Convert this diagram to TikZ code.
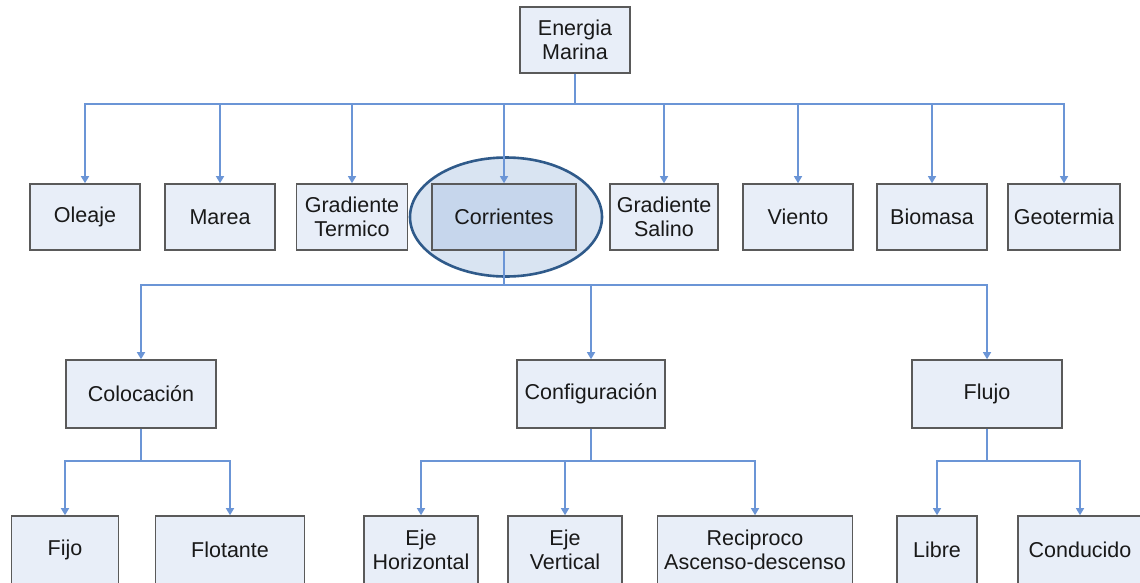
\documentclass[tikz,border=0pt]{standalone}
\usepackage{fontspec}
\setmainfont{Liberation Sans}
\usetikzlibrary{arrows.meta,shapes.geometric}
\definecolor{boxfill}{HTML}{E8EEF8}
\definecolor{boxdark}{HTML}{C6D6EC}
\definecolor{boxline}{HTML}{5A5A5A}
\definecolor{connc}{HTML}{6B95D6}
\definecolor{ellline}{HTML}{2F5A8A}
\definecolor{ellfill}{HTML}{D9E4F2}
\tikzset{
  box/.style={draw=boxline, line width=1.6pt, fill=boxfill, align=center,
    inner sep=0pt, minimum height=66pt, font=\fontsize{21.5}{24}\selectfont, text=black!90},
  conn/.style={draw=connc, line width=1.3pt, -{Triangle[width=8pt,length=7pt]}}
}
\begin{document}
\begin{tikzpicture}[x=1pt,y=-1pt]
\useasboundingbox (0,0) rectangle (1140,582);
\clip (0,0) rectangle (1140,582);
\fill[white] (0,0) rectangle (1140,582);
% ellipse highlight
\node[ellipse, draw=ellline, line width=2.6pt, fill=ellfill, minimum width=192pt, minimum height=119pt, inner sep=0pt] (hl) at (506,217) {};
% bus coordinates
\coordinate (b1) at (0,104);
\coordinate (b2) at (0,285);
\coordinate (b3) at (0,461);
% level 1
\node[box, minimum width=110pt] (root) at (575,40) {Energia\\Marina};
% level 2
\node[box, minimum width=110pt] (ole) at (85,217) {Oleaje};
\node[box, minimum width=110pt] (mar) at (220,217) {Marea};
\node[box, minimum width=111pt] (gt) at (352,217) {Gradiente\\Termico};
\node[box, minimum width=144pt, fill=boxdark] (cor) at (504,217) {Corrientes};
\node[box, minimum width=108pt] (gs) at (664,217) {Gradiente\\Salino};
\node[box, minimum width=110pt] (vie) at (798,217) {Viento};
\node[box, minimum width=110pt] (bio) at (932,217) {Biomasa};
\node[box, minimum width=112pt] (geo) at (1064,217) {Geotermia};
% level 3
\node[box, minimum width=150pt, minimum height=68pt] (col) at (141,394) {Colocación};
\node[box, minimum width=148pt, minimum height=68pt] (conf) at (591,394) {Configuración};
\node[box, minimum width=150pt, minimum height=68pt] (flu) at (987,394) {Flujo};
% level 4
\node[box, minimum width=107pt, minimum height=68pt] (fij) at (65,550) {Fijo};
\node[box, minimum width=149pt, minimum height=68pt] (flo) at (230,550) {Flotante};
\node[box, minimum width=114pt, minimum height=68pt] (ejh) at (421,550) {Eje\\Horizontal};
\node[box, minimum width=114pt, minimum height=68pt] (ejv) at (565,550) {Eje\\Vertical};
\node[box, minimum width=195pt, minimum height=68pt] (rec) at (755,550) {Reciproco\\Ascenso-descenso};
\node[box, minimum width=80pt, minimum height=68pt] (lib) at (937,550) {Libre};
\node[box, minimum width=124pt, minimum height=68pt] (cond) at (1080,550) {Conducido};
% connectors
\foreach \c in {ole,mar,gt,cor,gs,vie,bio,geo}
  \draw[conn] (root.south) -- (root.south |- b1) -| (\c.north);
\foreach \c in {col,conf,flu}
  \draw[conn] (cor.south) -- (cor.south |- b2) -| (\c.north);
\foreach \c in {fij,flo}
  \draw[conn] (col.south) -- (col.south |- b3) -| (\c.north);
\foreach \c in {ejh,ejv,rec}
  \draw[conn] (conf.south) -- (conf.south |- b3) -| (\c.north);
\foreach \c in {lib,cond}
  \draw[conn] (flu.south) -- (flu.south |- b3) -| (\c.north);
\end{tikzpicture}
\end{document}
